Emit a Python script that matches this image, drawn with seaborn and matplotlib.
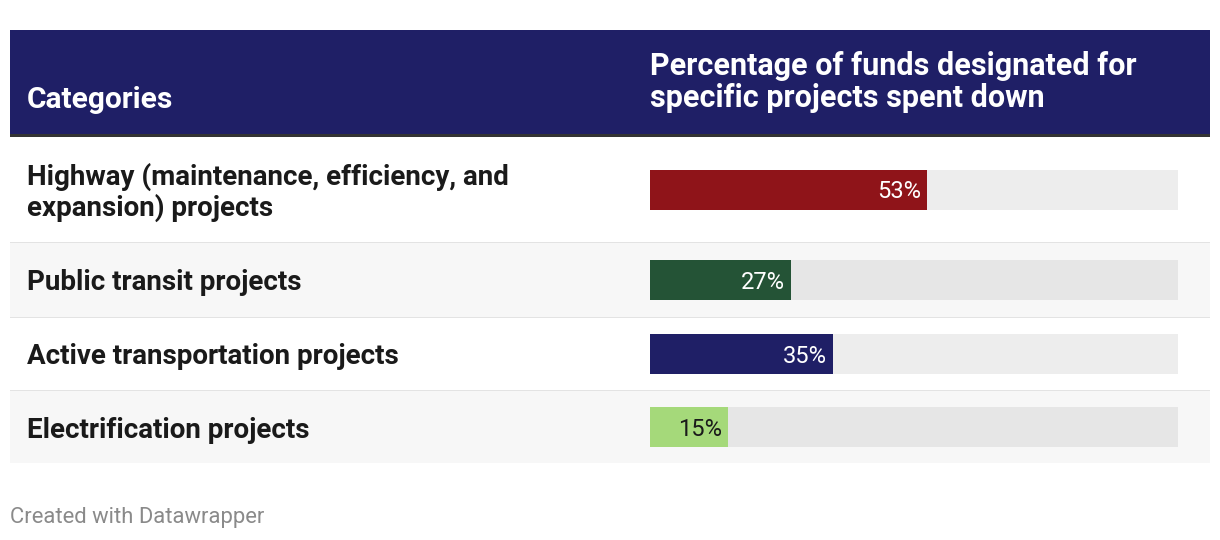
import matplotlib.pyplot as plt
import seaborn as sns
from matplotlib.patches import Rectangle

sns.set_theme(style="white")
plt.rcParams["font.family"] = ["Roboto", "DejaVu Sans"]

# data
categories = [
    "Highway (maintenance, efficiency, and\nexpansion) projects",
    "Public transit projects",
    "Active transportation projects",
    "Electrification projects",
]
spent_pct = [53, 27, 35, 15]
bar_colors = ["#8f1419", "#245336", "#1f1f66", "#a5d97a"]
label_colors = ["white", "white", "white", "#1a1a1a"]
header_left = "Categories"
header_right = "Percentage of funds designated for\nspecific projects spent down"
footer = "Created with Datawrapper"

W, H = 1220, 540
fig = plt.figure(figsize=(W / 100, H / 100), dpi=100)

# background layer in pixel coords
bg = fig.add_axes([0, 0, 1, 1])
bg.set_xlim(0, W)
bg.set_ylim(H, 0)
bg.axis("off")

navy = "#1f1f66"
bg.add_patch(Rectangle((10, 30), 1200, 104, color=navy, lw=0))
bg.add_patch(Rectangle((10, 134), 1200, 3, color="#333333", lw=0))
bg.text(27, 100, header_left, color="white", fontsize=21.5, fontweight="bold", va="center")
bg.text(650, 82, header_right, color="white", fontsize=22, fontweight="bold",
        va="center", linespacing=1.12)

# rows: top, bottom (pixels)
rows = [(137, 242), (243, 317), (318, 390), (391, 463)]
row_bg = ["white", "#f7f7f7", "white", "#f7f7f7"]
track = ["#ededed", "#e6e6e6", "#ededed", "#e6e6e6"]

bar_x0, bar_x1 = 650, 1178
bar_h = 40

for i, (top, bot) in enumerate(rows):
    bg.add_patch(Rectangle((10, top), 1200, bot - top, color=row_bg[i], lw=0))
    if i > 0:
        bg.add_patch(Rectangle((10, top - 1.5), 1200, 1.5, color="#e3e3e3", lw=0))
    cy = (top + bot) / 2
    bg.text(27, cy + 3, categories[i], fontsize=20, fontweight="bold", color="#1a1a1a",
            va="center", linespacing=1.1)

    # bar axes for this row, grey track = axes background
    ax = fig.add_axes([bar_x0 / W, 1 - (cy + bar_h / 2) / H,
                       (bar_x1 - bar_x0) / W, bar_h / H])
    sns.barplot(x=[spent_pct[i]], y=[0], orient="h", color=bar_colors[i], width=1,
                ax=ax, saturation=1, linewidth=0)
    ax.set_xlim(0, 101)
    ax.set_facecolor(track[i])
    ax.set_xticks([])
    ax.set_yticks([])
    ax.set_xlabel("")
    ax.set_ylabel("")
    for s in ax.spines.values():
        s.set_visible(False)
    ax.annotate(f"{spent_pct[i]}%", (spent_pct[i], 0), xytext=(-4.5, -1.5),
                textcoords="offset points", color=label_colors[i],
                fontsize=17, ha="right", va="center")

bg.text(10, 517, footer, color="#8a8a8a", fontsize=15.8, va="center")

fig.savefig("out.png", dpi=100)
